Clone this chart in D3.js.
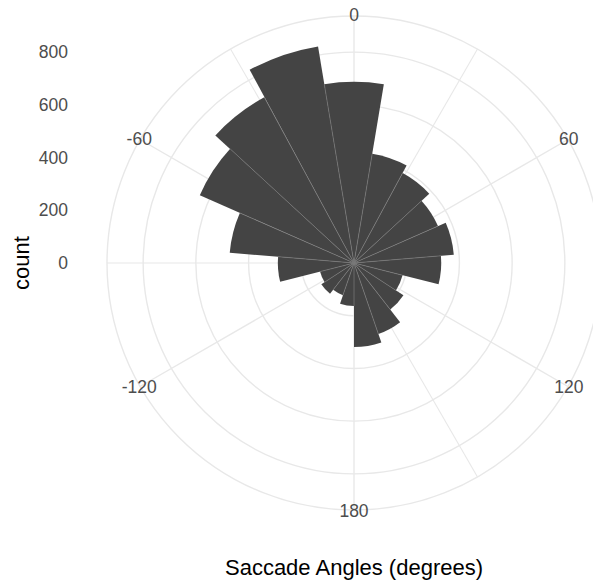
<!DOCTYPE html>
<html>
<head>
<meta charset="utf-8">
<script src="https://d3js.org/d3.v7.min.js"></script>
<style>
  body { margin: 0; background: #fff; }
  text { font-family: 'Liberation Sans', Arial, sans-serif; }
</style>
</head>
<body>
<div id="chart"></div>
<script>
// bins of saccade angles (degrees), 19 bins across -180..180
var binCenters = [-170.5, -151.6, -132.6, -113.7, -94.7, -75.8, -56.8, -37.9, -18.9, 0,
                  18.9, 37.9, 56.8, 75.8, 94.7, 113.7, 132.6, 151.6, 170.5];
var counts = [163, 129, 148, 133, 289, 473, 639, 715, 833, 688,
              420, 388, 348, 380, 331, 190, 224, 285, 319];
var binWidth = 360 / 19;

var thetaMajor = [-120, -60, 0, 60, 120, 180];
var thetaMinor = [-90, -30, 30, 150];
var rBreaks = [0, 200, 400, 600, 800];

var width = 593, height = 582;
var cx = 354, cy = 263;
var outerR = 247;               // 0.45 of the panel
var maxR = outerR * 0.4 / 0.45; // bars use 0..0.4

var svg = d3.select("#chart").append("svg")
    .attr("width", width)
    .attr("height", height);

var theta = d3.scaleLinear().domain([-180, 180]).range([-Math.PI, Math.PI]);
var r = d3.scaleLinear().domain([0, d3.max(counts)]).range([0, maxR]);

var g = svg.append("g").attr("transform", "translate(" + cx + "," + cy + ")");

// grid circles
g.selectAll("circle.grid")
    .data(rBreaks.map(function (d) { return r(d); }).concat([outerR]))
    .enter().append("circle")
    .attr("r", function (d) { return d; })
    .attr("fill", "none")
    .attr("stroke", "#e8e8e8")
    .attr("stroke-width", 1.4);

// spokes
function spoke(sel, data, w) {
  sel.selectAll(null)
      .data(data)
      .enter().append("line")
      .attr("x1", 0).attr("y1", 0)
      .attr("x2", function (d) { return outerR * Math.sin(theta(d)); })
      .attr("y2", function (d) { return -outerR * Math.cos(theta(d)); })
      .attr("stroke", "#e8e8e8")
      .attr("stroke-width", w);
}
spoke(g, thetaMinor, 1.1);
spoke(g, thetaMajor, 1.4);

// bars
var arc = d3.arc()
    .innerRadius(0)
    .outerRadius(function (d) { return r(d.count); })
    .startAngle(function (d) { return theta(d.center - binWidth / 2); })
    .endAngle(function (d) { return theta(d.center + binWidth / 2); });

var bins = binCenters.map(function (c, i) { return { center: c, count: counts[i] }; });

g.selectAll("path.bar")
    .data(bins)
    .enter().append("path")
    .attr("class", "bar")
    .attr("d", arc)
    .attr("fill", "#444444");

// thin light gaps between neighbouring bars
g.selectAll("line.gap")
    .data(bins)
    .enter().append("line")
    .attr("x1", 0).attr("y1", 0)
    .attr("x2", function (d, i) {
      var next = bins[(i + 1) % bins.length];
      var len = r(Math.min(d.count, next.count));
      return len * Math.sin(theta(d.center + binWidth / 2));
    })
    .attr("y2", function (d, i) {
      var next = bins[(i + 1) % bins.length];
      var len = r(Math.min(d.count, next.count));
      return -len * Math.cos(theta(d.center + binWidth / 2));
    })
    .attr("stroke", "#7a7a7a")
    .attr("stroke-width", 0.7);

// theta labels
g.selectAll("text.theta")
    .data(thetaMajor)
    .enter().append("text")
    .attr("x", function (d) { return 248 * Math.sin(theta(d)); })
    .attr("y", function (d) { return -248 * Math.cos(theta(d)); })
    .attr("text-anchor", "middle")
    .attr("dominant-baseline", "central")
    .attr("fill", "#4d4d4d")
    .style("font-size", "17.5px")
    .text(function (d) { return d; });

// r axis labels on the left
svg.selectAll("text.r")
    .data(rBreaks)
    .enter().append("text")
    .attr("x", 68)
    .attr("y", function (d) { return cy - r(d); })
    .attr("text-anchor", "end")
    .attr("dominant-baseline", "central")
    .attr("fill", "#4d4d4d")
    .style("font-size", "17.5px")
    .text(function (d) { return d; });

// axis titles
svg.append("text")
    .attr("transform", "translate(29," + cy + ") rotate(-90)")
    .attr("text-anchor", "middle")
    .attr("fill", "#000")
    .style("font-size", "22px")
    .text("count");

svg.append("text")
    .attr("x", cx)
    .attr("y", 575)
    .attr("text-anchor", "middle")
    .attr("fill", "#000")
    .style("font-size", "22px")
    .text("Saccade Angles (degrees)");
</script>
</body>
</html>
